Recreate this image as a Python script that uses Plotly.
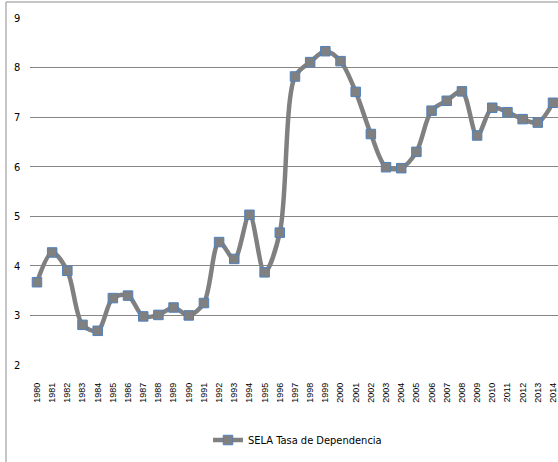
import plotly.graph_objects as go

years = [str(y) for y in range(1980, 2015)]
values = [3.67, 4.27, 3.90, 2.81, 2.69, 3.35, 3.40, 2.98, 3.01, 3.16, 3.00, 3.25,
          4.48, 4.14, 5.03, 3.87, 4.67, 7.82, 8.11, 8.33, 8.13, 7.51, 6.66, 5.99,
          5.97, 6.30, 7.13, 7.33, 7.52, 6.63, 7.19, 7.10, 6.96, 6.89, 7.29]
series_name = "SELA Tasa de Dependencia"
y_ticks = [2, 3, 4, 5, 6, 7, 8, 9]

W, H = 558, 462
PL = 30                     # pixel where the plot area starts
T, B = 18, 97
ph = H - T - B

narrow = "Liberation Sans Narrow, DejaVu Sans Condensed, Arial Narrow, sans-serif"

fig = go.Figure()
fig.add_trace(go.Scatter(
    x=list(range(len(years))), y=values, name=series_name,
    mode="lines+markers",
    line=dict(color="#808080", width=4.5, shape="spline", smoothing=0.9),
    marker=dict(symbol="square", size=9.5, color="#808080",
                line=dict(color="#4F81BD", width=1)),
    cliponaxis=False,
))

fig.update_layout(
    template="none",
    width=W, height=H,
    margin=dict(l=0, r=0, t=T, b=B, pad=0),
    paper_bgcolor="white", plot_bgcolor="white",
    showlegend=True,
    legend=dict(orientation="h", x=208 / W, xanchor="left",
                y=-(440 - (T + ph)) / ph, yanchor="middle",
                font=dict(family=narrow, size=11, color="#000000"),
                bgcolor="rgba(0,0,0,0)"),
    xaxis=dict(
        range=[-0.46, 34.33], domain=[PL / W, 1],
        tickmode="array", tickvals=list(range(len(years))), ticktext=years,
        tickangle=-90, showgrid=False, zeroline=False, showline=False,
        ticks="", ticklabelstandoff=15, automargin=False,
        tickfont=dict(family="Liberation Sans, Arial, sans-serif", size=9, color="#000000"),
    ),
    yaxis=dict(
        range=[2, 9], tickvals=y_ticks, showgrid=True, gridcolor="#868686",
        gridwidth=1, zeroline=False, showline=False, ticks="",
        anchor="free", position=13 / W, side="right", automargin=False,
        tickfont=dict(family=narrow, size=11, color="#000000"),
    ),
    shapes=[dict(type="rect", xref="paper", yref="paper",
                 x0=6 / W, x1=(W + 5) / W,
                 y0=-(H + 10 - (T + ph)) / ph, y1=(T + ph - 2) / ph,
                 line=dict(color="#8C8C8C", width=1), fillcolor="rgba(0,0,0,0)",
                 layer="below")],
)

fig.write_html("out.html", config={"displayModeBar": False},
               post_script="document.body.style.margin='0';document.body.style.overflow='hidden';")
